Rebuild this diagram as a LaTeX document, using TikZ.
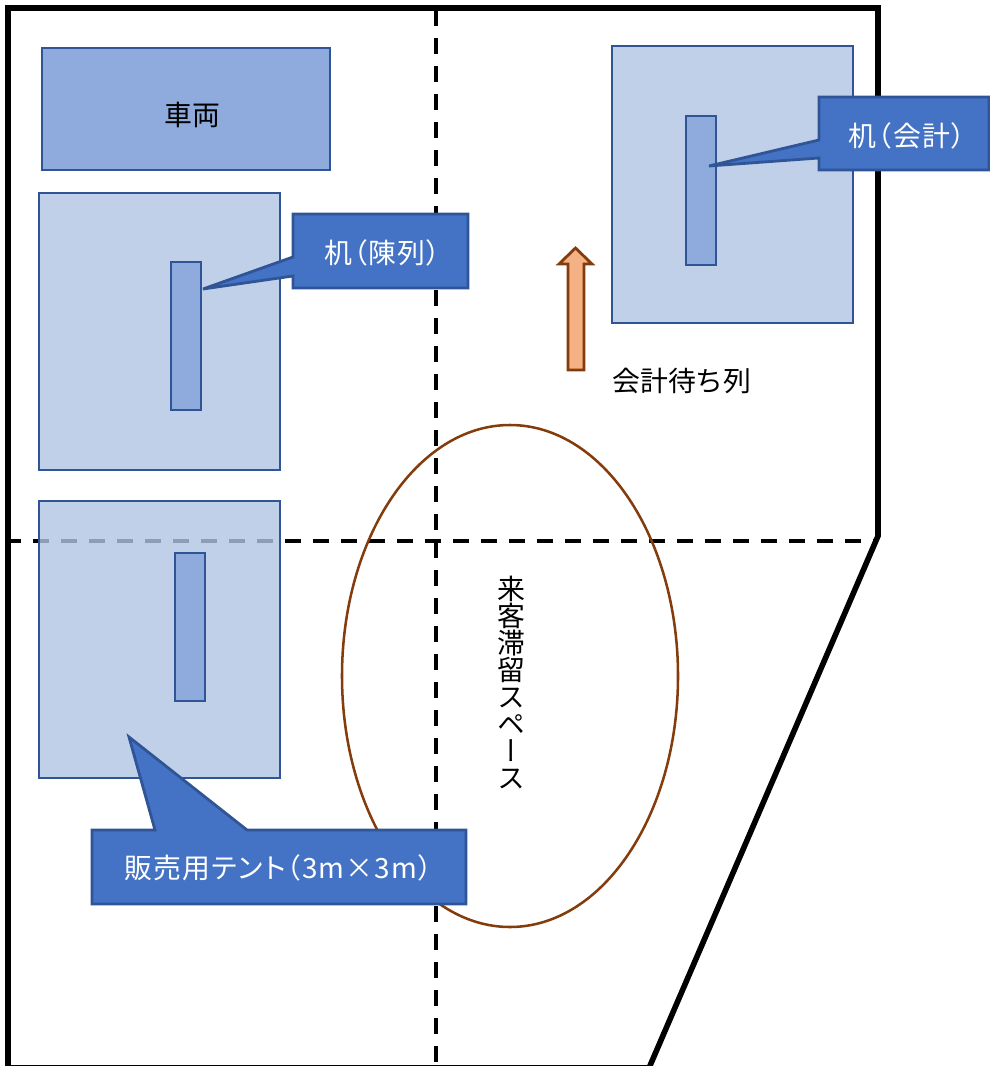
\documentclass[tikz,border=0pt]{standalone}
\usepackage{fontspec}
\usetikzlibrary{shapes.geometric}
\setmainfont{Noto Sans CJK JP}
\newfontfamily\cjkvert[RawFeature=+vert]{Noto Sans CJK JP}
\newfontfamily\cjkprop[RawFeature=+palt,LetterSpace=4.5]{Noto Sans CJK JP}
\definecolor{tentfill}{HTML}{B2C4E4}
\definecolor{deskfill}{HTML}{8FAADC}
\definecolor{edgeblue}{HTML}{2F5597}
\definecolor{calloutfill}{HTML}{4472C4}
\definecolor{brownline}{HTML}{843C0C}
\definecolor{arrowfill}{HTML}{F4B183}
\tikzset{
  x=0.75pt,y=-0.75pt,
  outline/.style={draw=black,line width=4.2pt,miter limit=10},
  zoneline/.style={draw=black,line width=2.7pt,dash pattern=on 12pt off 9pt},
  tentbox/.style={draw=edgeblue,line width=2.1pt,fill=tentfill,fill opacity=.8,rectangle,inner sep=0pt,outer sep=0pt},
  deskbox/.style={draw=edgeblue,line width=2.1pt,fill=deskfill,rectangle,inner sep=0pt,outer sep=0pt},
  calloutbox/.style={draw=edgeblue,line width=2.1pt,fill=calloutfill,line join=miter},
  calloutlabel/.style={text=white,font=\cjkprop\fontsize{20.9pt}{24pt}\selectfont,inner sep=0pt},
  plainlabel/.style={text=black,font=\fontsize{20.9pt}{24pt}\selectfont,inner sep=0pt},
  waitarrow/.style={draw=brownline,line width=2.1pt,fill=arrowfill,line join=miter},
  crowd/.style={draw=brownline,line width=1.9pt},
}
\begin{document}
\begin{tikzpicture}
\useasboundingbox (0,0) rectangle (989,1066);
% site outline and zone lines
\draw[outline] (8,8) -- (878,8) -- (878,536) -- (649,1068) -- (8,1068) -- cycle;
\coordinate (vtop) at (436,10);
\coordinate (vbot) at (436,1066);
\coordinate (hleft) at (5,541);
\coordinate (hright) at (878,541);
\draw[zoneline] (vtop) -- (vbot);
\draw[zoneline] (hleft) -- (hright);
% vehicle
\node[deskbox,minimum width=216pt,minimum height=91.5pt,anchor=north west] (vehicle) at (42,48) {};
\node[plainlabel] (vehiclelabel) at (192,115) {車両};
% tents
\node[tentbox,minimum width=180.75pt,minimum height=207.75pt,anchor=north west] (tentA) at (39,193) {};
\node[tentbox,minimum width=180.75pt,minimum height=207.75pt,anchor=north west] (tentB) at (39,501) {};
\node[tentbox,minimum width=180.75pt,minimum height=207.75pt,anchor=north west] (tentC) at (612,46) {};
% desks
\node[deskbox,minimum width=22.5pt,minimum height=111pt,anchor=north west] (deskA) at (171,262) {};
\node[deskbox,minimum width=22.5pt,minimum height=111pt,anchor=north west] (deskB) at (175,553) {};
\node[deskbox,minimum width=22.5pt,minimum height=111.75pt,anchor=north west] (deskC) at (686,116) {};
% waiting arrow
\draw[waitarrow] (575.5,248) -- (592,264) -- (584,264) -- (584,370) -- (568,370) -- (568,264) -- (559,264) -- cycle;
\node[plainlabel,anchor=west] (waitlabel) at (612,381) {会計待ち列};
% crowd space
\node[crowd,ellipse,minimum width=252pt,minimum height=376.5pt,inner sep=0pt] (crowdspace) at (510,676) {};
\node[plainlabel,align=center,font=\cjkvert\fontsize{20.9pt}{20.2pt}\selectfont] (crowdlabel) at (511,682.5) {来\\客\\滞\\留\\ス\\ペ\\ー\\ス};
% callouts
\draw[calloutbox] (293,214) -- (468,214) -- (468,288) -- (293,288) -- (293,276) -- (203,289) -- (293,257) -- cycle;
\node[calloutlabel] (labelA) at (382.5,253) {机（陳列）};
\draw[calloutbox] (819,97) -- (989,97) -- (989,170) -- (819,170) -- (819,158) -- (709,166) -- (819,140) -- cycle;
\node[calloutlabel] (labelC) at (907,136) {机（会計）};
\draw[calloutbox] (92,830) -- (155,830) -- (129,737) -- (247,830) -- (466,830) -- (466,904) -- (92,904) -- cycle;
\node[calloutlabel] (labelT) at (278.5,868) {販売用テント（3m×3m）};
\end{tikzpicture}
\end{document}
